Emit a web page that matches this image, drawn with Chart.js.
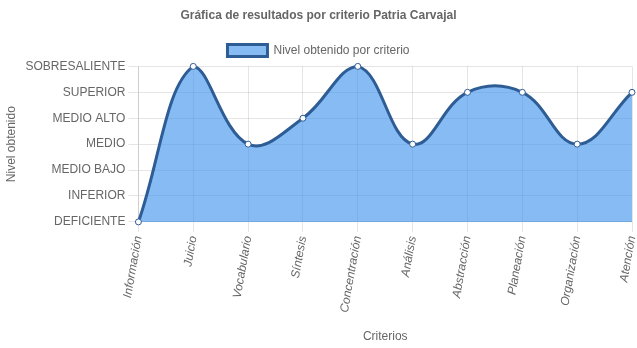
<!DOCTYPE html>
<html>
<head>
<meta charset="utf-8">
<script src="https://cdn.jsdelivr.net/npm/chart.js@4/dist/chart.umd.min.js"></script>
<style>
  html,body{margin:0;padding:0;background:#fff}
  #wrap{width:637px;height:348px}
</style>
</head>
<body>
<div id="wrap"><canvas id="grafica"></canvas></div>
<script>
// niveles de la escala (eje Y)
const niveles=['DEFICIENTE','INFERIOR','MEDIO BAJO','MEDIO','MEDIO ALTO','SUPERIOR','SOBRESALIENTE'];
const criterios=['Información','Juicio','Vocabulario','Síntesis','Concentración','Análisis','Abstracción','Planeación','Organización','Atención'];
const resultados=[0,6,3,4,6,3,5,5,3,5];

Chart.defaults.font.family='"Liberation Sans", Arial, sans-serif';
Chart.defaults.font.size=12;
Chart.defaults.color='#666';

new Chart(document.getElementById('grafica'),{
  type:'line',
  data:{labels:criterios,datasets:[{
    label:'Nivel obtenido por criterio',
    data:resultados,
    backgroundColor:'rgba(54,142,235,0.6)',
    borderColor:'#2e5c94',
    borderWidth:3,
    fill:true,
    clip:false,
    tension:0.4,
    pointRadius:3,
    pointBackgroundColor:'#fff',
    pointBorderColor:'#2e5c94',
    pointBorderWidth:1
  }]},
  options:{
    responsive:true,maintainAspectRatio:false,animation:false,
    plugins:{
      title:{display:true,text:'Gráfica de resultados por criterio Patria Carvajal',font:{size:12,weight:'bold'},padding:{top:8,bottom:13}},
      legend:{labels:{boxWidth:40,font:{size:12},padding:9}},
      tooltip:{enabled:false}
    },
    scales:{
      x:{
        afterFit:(s)=>{ s.paddingRight=4; },
        grid:{color:'rgba(0,0,0,0.1)',tickLength:10},
        ticks:{minRotation:80,maxRotation:80,font:{style:'italic'}},
        title:{display:true,text:'Criterios',padding:{top:13}}
      },
      y:{
        min:0,max:6,
        grid:{color:'rgba(0,0,0,0.1)',tickLength:10},
        ticks:{stepSize:1,callback:(v)=>niveles[v]},
        title:{display:true,text:'Nivel obtenido'}
      }
    }
  }
});
</script>
</body>
</html>
